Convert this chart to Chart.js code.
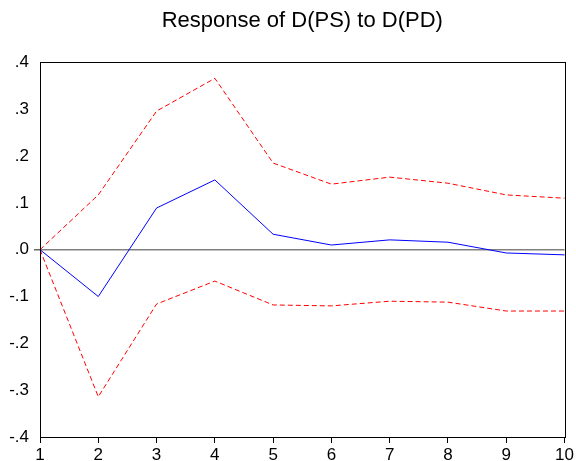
<!DOCTYPE html>
<html>
<head>
<meta charset="utf-8">
<script src="https://cdn.jsdelivr.net/npm/chart.js@4"></script>
<style>
  html, body { margin: 0; padding: 0; background: #fff; }
</style>
</head>
<body>
<canvas id="irfChart" width="576" height="461"></canvas>
<script>
const periods = [1, 2, 3, 4, 5, 6, 7, 8, 9, 10];
const response = [0, -0.100, 0.089, 0.149, 0.033, 0.010, 0.021, 0.016, -0.007, -0.011];
const upperBand = [0, 0.117, 0.296, 0.366, 0.185, 0.140, 0.155, 0.142, 0.117, 0.110];
const lowerBand = [0, -0.314, -0.116, -0.067, -0.118, -0.120, -0.110, -0.112, -0.131, -0.131];
const yTicks = [-0.4, -0.3, -0.2, -0.1, 0, 0.1, 0.2, 0.3, 0.4];

// box around the plot area
const frame = {
  id: 'frame',
  afterDraw(chart) {
    const a = chart.chartArea;
    const c = chart.ctx;
    c.save();
    c.strokeStyle = '#000';
    c.lineWidth = 1;
    c.strokeRect(Math.round(a.left) + 0.5, Math.round(a.top) + 0.5,
      Math.round(a.right - a.left), Math.round(a.bottom - a.top));
    c.restore();
  }
};

const ctx = document.getElementById('irfChart').getContext('2d');
new Chart(ctx, {
  type: 'line',
  data: {
    labels: periods,
    datasets: [
      {
        data: response,
        borderColor: '#0000ff',
        borderWidth: 1,
        pointRadius: 0,
        tension: 0
      },
      {
        data: upperBand,
        borderColor: '#ff0000',
        borderWidth: 1,
        borderDash: [5, 3],
        pointRadius: 0,
        tension: 0
      },
      {
        data: lowerBand,
        borderColor: '#ff0000',
        borderWidth: 1,
        borderDash: [5, 3],
        pointRadius: 0,
        tension: 0
      }
    ]
  },
  options: {
    responsive: false,
    animation: false,
    layout: { padding: { left: 0, right: 10, top: 0, bottom: 0 } },
    plugins: {
      legend: { display: false },
      tooltip: { enabled: false },
      title: {
        display: true,
        fullSize: false,
        text: 'Response of D(PS) to D(PD)',
        color: '#000',
        font: { family: 'Liberation Sans', size: 22, weight: 'normal' },
        padding: { top: 8, bottom: 28 }
      }
    },
    scales: {
      x: {
        type: 'category',
        offset: false,
        grid: { drawOnChartArea: false, tickLength: 6, tickColor: '#000' },
        border: { color: '#000' },
        ticks: {
          color: '#000',
          padding: 2,
          maxRotation: 0,
          autoSkip: false,
          font: { family: 'Liberation Sans', size: 17 }
        },
        afterFit(scale) { scale.height = 24; }
      },
      y: {
        min: -0.4,
        max: 0.4,
        afterBuildTicks(scale) { scale.ticks = yTicks.map(v => ({ value: v })); },
        grid: {
          color: c => (c.tick && c.tick.value === 0 ? '#808080' : 'transparent'),
          lineWidth: c => (c.tick && c.tick.value === 0 ? 1.5 : 0),
          tickLength: 6,
          tickColor: '#666'
        },
        border: { color: '#000' },
        ticks: {
          color: '#000',
          padding: 5,
          font: { family: 'Liberation Sans', size: 17 },
          callback: v => v.toFixed(1).replace('0.', '.')
        },
        afterFit(scale) { scale.width = 40; }
      }
    }
  },
  plugins: [frame]
});
</script>
</body>
</html>
